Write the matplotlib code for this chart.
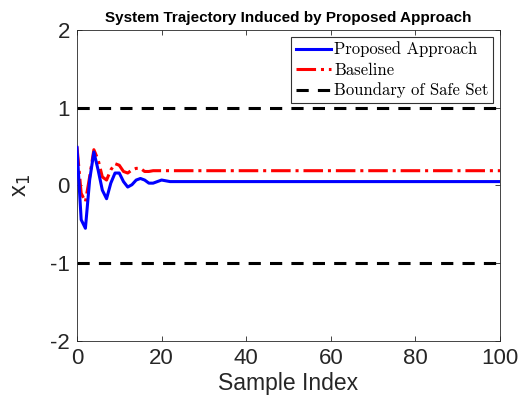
import matplotlib
matplotlib.use("Agg")
import matplotlib.pyplot as plt

# samples (transient densely, flat tail coarsely)
k = [0, 1, 2, 3, 4, 5, 6, 7, 8, 9, 10, 11, 12, 13, 14, 15, 16, 17, 18, 19,
     20, 21, 22, 23, 24, 25, 30, 40, 50, 60, 70, 80, 90, 100]
proposed = [0.49, -0.44, -0.55, 0.07, 0.43, 0.20, -0.06, -0.17, 0.03, 0.16,
            0.16, 0.05, -0.02, 0.01, 0.07, 0.09, 0.07, 0.03, 0.03, 0.05,
            0.07, 0.06, 0.05, 0.05, 0.05, 0.05, 0.05, 0.05, 0.05, 0.05,
            0.05, 0.05, 0.05, 0.05]
baseline = [0.50, -0.10, -0.21, 0.11, 0.46, 0.33, 0.11, 0.07, 0.20, 0.28,
            0.26, 0.18, 0.16, 0.20, 0.22, 0.22, 0.18, 0.18, 0.19, 0.19,
            0.19, 0.19, 0.19, 0.19, 0.19, 0.19, 0.19, 0.19, 0.19, 0.19,
            0.19, 0.19, 0.19, 0.19]
safe_upper = 1
safe_lower = -1
yticks = [-2, -1, 0, 1, 2]
xticks = [0, 20, 40, 60, 80, 100]

INK = "#262626"

fig = plt.figure(figsize=(5.27, 4.09), dpi=100)
ax = fig.add_axes([0.146, 0.166, 0.803, 0.761])

ax.plot(k, baseline, "-.", color="#ff0000", lw=2.2, label="Baseline", zorder=2)
ax.plot(k, proposed, "-", color="#0000ff", lw=2.2, label="Proposed Approach",
        zorder=3)
ax.axhline(safe_upper, color="black", ls=(0, (4, 3)), lw=2.2,
           label="Boundary of Safe Set")
ax.axhline(safe_lower, color="black", ls=(0, (4, 3)), lw=2.2)

ax.set_xlim(0, 100)
ax.set_ylim(-2, 2)
ax.set_xticks(xticks)
ax.set_yticks(yticks)
ax.set_yticklabels([str(v) for v in yticks])
ax.tick_params(direction="in", top=True, right=True, labelsize=16,
               length=3.5, width=0.6, colors=INK, pad=5)
for lab in ax.get_xticklabels() + ax.get_yticklabels():
    lab.set_family("Liberation Sans")
for sp in ax.spines.values():
    sp.set_linewidth(0.6)
    sp.set_color(INK)

ax.set_xlabel("Sample Index", fontsize=16.5, family="Liberation Sans",
              color=INK, labelpad=2)
ax.set_ylabel("x$_1$", fontsize=17, family="Liberation Sans", color=INK,
              labelpad=12)
ax.set_title("System Trajectory Induced by Proposed Approach", fontsize=11,
             fontweight="bold", family="Liberation Sans", pad=6)

# legend in the order of the original figure
h, l = ax.get_legend_handles_labels()
order = [1, 0, 2]
leg = ax.legend([h[i] for i in order], [l[i] for i in order],
                loc="upper right", prop={"family": "cmr10", "size": 12},
                frameon=True, fancybox=False, edgecolor="black",
                borderaxespad=0.4, handlelength=2.1, handletextpad=0.2,
                labelspacing=0.3, borderpad=0.3)
leg.get_frame().set_linewidth(0.8)

fig.savefig("out.png", dpi=100)
